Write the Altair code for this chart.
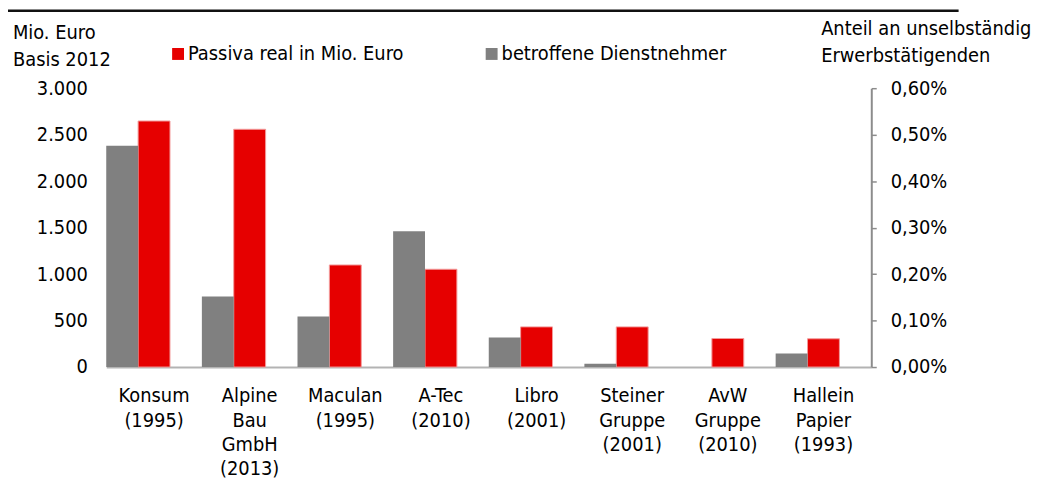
import altair as alt
import pandas as pd

# ---- data ----
categories = [
    "Konsum|(1995)",
    "Alpine|Bau|GmbH|(2013)",
    "Maculan|(1995)",
    "A-Tec|(2010)",
    "Libro|(2001)",
    "Steiner|Gruppe|(2001)",
    "AvW|Gruppe|(2010)",
    "Hallein|Papier|(1993)",
]
passiva = [2647, 2558, 1098, 1052, 432, 432, 307, 304]            # Mio. Euro, Basis 2012
anteil = [0.00476, 0.00152, 0.00109, 0.00292, 0.000635, 0.000073, 0.0, 0.00029]  # share
left_ticks = [0, 500, 1000, 1500, 2000, 2500, 3000]
right_ticks = [0, 0.001, 0.002, 0.003, 0.004, 0.005, 0.006]

S_P = "Passiva real in Mio. Euro"
S_D = "betroffene Dienstnehmer"
RED = "#e60000"
GREY = "#808080"
FONT = "DejaVu Sans Condensed"
FS = 20

df = pd.DataFrame({"cat": categories, "passiva": passiva, "anteil": anteil})

x = alt.X(
    "cat:N",
    sort=categories,
    scale=alt.Scale(paddingInner=0, paddingOuter=0),
    axis=alt.Axis(
        title=None,
        labelExpr="split(datum.label, '|')",
        labelAngle=0,
        ticks=False,
        tickSize=0,
        domainColor="#b3b3b3",
        domainWidth=2,
        labelPadding=19,
        labelLineHeight=24.5,
        labelBaseline="top",
    ),
)
xo = alt.XOffset(
    "series:N",
    scale=alt.Scale(domain=[S_D, S_P, "gap"], paddingInner=0, paddingOuter=0),
)
color = alt.Color(
    "series:N",
    scale=alt.Scale(domain=[S_P, S_D], range=[RED, GREY]),
    legend=alt.Legend(
        orient="none",
        legendX=62.4,
        legendY=-44.5,
        direction="horizontal",
        title=None,
        symbolType="square",
        symbolSize=144,
        symbolStrokeWidth=0,
        symbolOpacity=1,
        labelFontSize=FS,
        labelFont=FONT,
        labelColor="black",
        labelOffset=0,
        labelLimit=600,
        columnPadding=78,
        padding=0,
    ),
)

y_left = alt.Y(
    "passiva:Q",
    scale=alt.Scale(domain=[0, 3000], nice=False),
    axis=alt.Axis(
        orient="left",
        values=left_ticks,
        labelExpr="replace(format(datum.value, ','), ',', '.')",
        domain=False,
        ticks=False,
        tickSize=0,
        grid=False,
        labelPadding=19,
        title=["Mio. Euro", "Basis 2012"],
        titleAngle=0,
        titleAlign="left",
        titleBaseline="alphabetic",
        titleX=-94.5,
        titleY=-49.7,
        titleLineHeight=26.7,
        titleLimit=600,
    ),
)
y_right = alt.Y(
    "anteil:Q",
    scale=alt.Scale(domain=[0, 0.006], nice=False),
    axis=alt.Axis(
        orient="right",
        values=right_ticks,
        labelExpr="replace(format(datum.value, '.2%'), '.', ',')",
        domainColor="#8c8c8c",
        domainWidth=2,
        tickColor="#8c8c8c",
        tickWidth=1.5,
        tickSize=5,
        labelPadding=14,
        grid=False,
        title=["Anteil an unselbständig", "Erwerbstätigenden"],
        titleAngle=0,
        titleAlign="left",
        titleBaseline="alphabetic",
        titleX=-51,
        titleY=-53.7,
        titleLineHeight=26.7,
        titleLimit=600,
    ),
)

base = alt.Chart(df)

grey_bars = (
    base.transform_calculate(series="'" + S_D + "'")
    .mark_bar()
    .encode(x=x, xOffset=xo, y=y_right, color=color)
)
red_bars = (
    base.transform_calculate(series="'" + S_P + "'")
    .mark_bar(stroke="#f29a9a", strokeWidth=1)
    .encode(x=x, xOffset=xo, y=y_left, color=color)
)
top_rule = (
    alt.Chart(alt.Data(values=[{}]))
    .mark_rule(color="#111111", strokeWidth=2.5)
    .encode(x=alt.value(-99), x2=alt.value(859), y=alt.value(-78))
)

chart = (
    alt.layer(red_bars, grey_bars, top_rule)
    .resolve_scale(y="independent")
    .properties(
        width=771,
        height=281,
        autosize="none",
        padding={"left": 99, "top": 79, "right": 166, "bottom": 110},
    )
    .configure(font=FONT)
    .configure_view(stroke=None)
    .configure_axis(
        labelFont=FONT,
        labelFontSize=FS,
        labelColor="black",
        titleFont=FONT,
        titleFontSize=FS,
        titleFontWeight="normal",
        titleColor="black",
    )
)

chart.save("out.html", embed_options={"renderer": "svg", "actions": False})
